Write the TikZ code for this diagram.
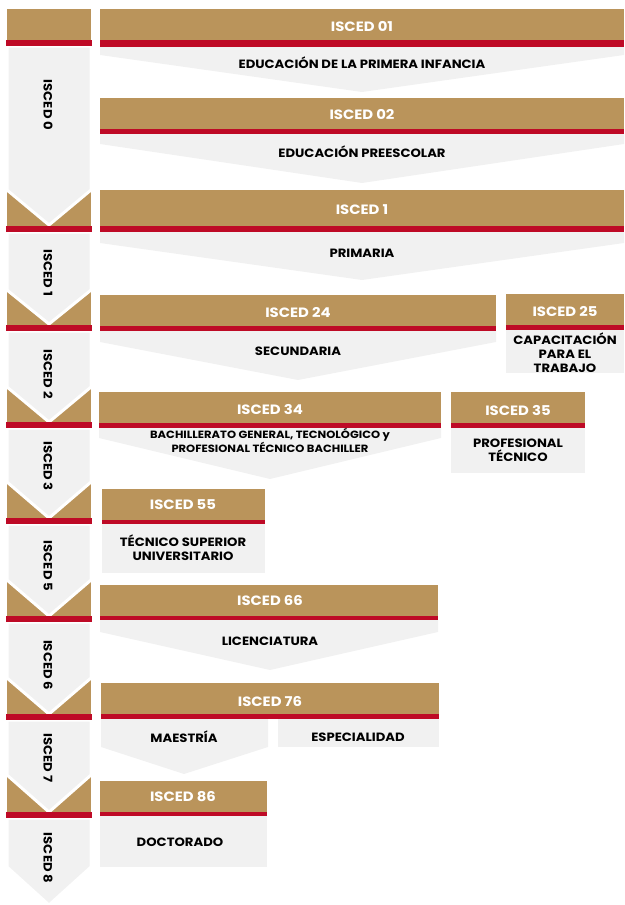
\documentclass[tikz,border=0pt]{standalone}
\usepackage{fontspec}
\setmainfont{Poppins}[FakeStretch=1.1]
\usepackage{tikz}
\usetikzlibrary{positioning,calc}

\definecolor{iscedgold}{RGB}{186,148,91}
\definecolor{iscedred}{RGB}{190,10,38}
\definecolor{iscedgray}{RGB}{241,241,241}

\tikzset{
    goldbar/.style={fill=iscedgold},
    redbar/.style={fill=iscedred},
    panel/.style={fill=iscedgray},
    sidepanel/.style={fill=iscedgray, draw=white, line width=3pt, line join=miter},
    titletext/.style={text=white, font=\bfseries\fontsize{13.5}{15}\selectfont},
    bodytext/.style={align=center, font=\bfseries\fontsize{12}{14}\selectfont},
    smalltext/.style={align=center, font=\bfseries\fontsize{10.5}{12}\selectfont},
    sidetext/.style={rotate=-90, font=\bfseries\fontsize{12}{14}\selectfont}
}

\begin{document}
\begin{tikzpicture}[x=1pt, y=-1pt]
    \useasboundingbox (0,0) rectangle (624,905);

    % Columna izquierda: niveles ISCED
    \foreach \s/\r/\n/\t in {9/40/190/225, 190/226/290/324, 290/325/387/422,
        387/422/482/518, 482/518/580/616, 580/616/678/714, 678/714/775/812,
        775/812/867/905}
        \fill[goldbar] (7,\s) rectangle (91,\r);
    \foreach \s/\r/\n/\t in {9/40/190/225, 190/226/290/324, 290/325/387/422,
        387/422/482/518, 482/518/580/616, 580/616/678/714, 678/714/775/812,
        775/812/867/905}
    {
        \filldraw[sidepanel] (7,\r+6) -- (91,\r+6) -- (91,\n) -- (49,\t) -- (7,\n) -- cycle;
        \fill[redbar] (6,\r) rectangle (92,\r+6);
    }
    \foreach \lab/\ly in {0/105, 1/273, 2/374, 3/466, 5/566, 6/665, 7/758, 8/858}
        \node[sidetext] (level\lab) at (48,\ly) {ISCED \lab};

    % ISCED 01
    \fill[goldbar] (100,9) rectangle (624,40);
    \fill[redbar] (100,40) rectangle (624,47);
    \fill[panel] (100,47) -- (624,47) -- (624,55) -- (362,92) -- (100,55) -- cycle;
    \node[titletext] (t01) at (362,27) {ISCED 01};
    \node[bodytext] (b01) at (362,63) {EDUCACIÓN DE LA PRIMERA INFANCIA};

    % ISCED 02
    \fill[goldbar] (100,98) rectangle (624,129);
    \fill[redbar] (100,129) rectangle (624,134);
    \fill[panel] (100,134) -- (624,134) -- (624,144) -- (362,183) -- (100,144) -- cycle;
    \node[titletext] (t02) at (362,115) {ISCED 02};
    \node[bodytext] (b02) at (362,152) {EDUCACIÓN PREESCOLAR};

    % ISCED 1
    \fill[goldbar] (100,190) rectangle (624,226);
    \fill[redbar] (100,226) rectangle (624,232);
    \fill[panel] (100,232) -- (624,232) -- (624,243) -- (362,280) -- (100,243) -- cycle;
    \node[titletext] (t1) at (362,210) {ISCED 1};
    \node[bodytext] (b1) at (362,253) {PRIMARIA};

    % ISCED 24 y 25
    \fill[goldbar] (100,295) rectangle (496,326);
    \fill[redbar] (100,326) rectangle (496,331);
    \fill[panel] (100,331) -- (496,331) -- (496,342) -- (298,380) -- (100,342) -- cycle;
    \node[titletext] (t24) at (298,313) {ISCED 24};
    \node[bodytext] (b24) at (298,351) {SECUNDARIA};

    \fill[goldbar] (506,294) rectangle (624,325);
    \fill[redbar] (506,325) rectangle (624,330);
    \fill[panel] (506,330) rectangle (624,373);
    \node[titletext] (t25) at (565,312) {ISCED 25};
    \node[bodytext] (b25) at (565,353) {CAPACITACIÓN\\PARA EL\\TRABAJO};

    % ISCED 34 y 35
    \fill[goldbar] (99,392) rectangle (441,423);
    \fill[redbar] (99,423) rectangle (441,428);
    \fill[panel] (99,428) -- (441,428) -- (441,438) -- (270,479) -- (99,438) -- cycle;
    \node[titletext] (t34) at (270,409) {ISCED 34};
    \node[smalltext] (b34) at (270,440) {BACHILLERATO GENERAL, TECNOLÓGICO y\\PROFESIONAL TÉCNICO BACHILLER};

    \fill[goldbar] (451,392) rectangle (585,423);
    \fill[redbar] (451,423) rectangle (585,428);
    \fill[panel] (451,428) rectangle (585,473);
    \node[titletext] (t35) at (518,410) {ISCED 35};
    \node[bodytext] (b35) at (518,450) {PROFESIONAL\\TÉCNICO};

    % ISCED 55
    \fill[goldbar] (102,489) rectangle (265,520);
    \fill[redbar] (102,520) rectangle (265,524);
    \fill[panel] (102,524) rectangle (265,573);
    \node[titletext] (t55) at (183,505) {ISCED 55};
    \node[bodytext] (b55) at (183,548) {TÉCNICO SUPERIOR\\UNIVERSITARIO};

    % ISCED 66
    \fill[goldbar] (100,585) rectangle (438,616);
    \fill[redbar] (100,616) rectangle (438,620);
    \fill[panel] (100,620) -- (438,620) -- (438,632) -- (270,670) -- (100,632) -- cycle;
    \node[titletext] (t66) at (270,601) {ISCED 66};
    \node[bodytext] (b66) at (270,641) {LICENCIATURA};

    % ISCED 76
    \fill[goldbar] (101,683) rectangle (439,714);
    \fill[redbar] (101,714) rectangle (439,719);
    \fill[panel] (101,719) -- (268,719) -- (268,747) -- (184,774) -- (101,747) -- cycle;
    \fill[panel] (278,719) rectangle (439,747);
    \node[titletext] (t76) at (270,702) {ISCED 76};
    \node[bodytext] (b76a) at (184,737) {MAESTRÍA};
    \node[bodytext] (b76b) at (358,737) {ESPECIALIDAD};

    % ISCED 86
    \fill[goldbar] (100,781) rectangle (267,812);
    \fill[redbar] (100,812) rectangle (267,816);
    \fill[panel] (100,816) rectangle (267,867);
    \node[titletext] (t86) at (183,797) {ISCED 86};
    \node[bodytext] (b86) at (180,842) {DOCTORADO};
\end{tikzpicture}
\end{document}
